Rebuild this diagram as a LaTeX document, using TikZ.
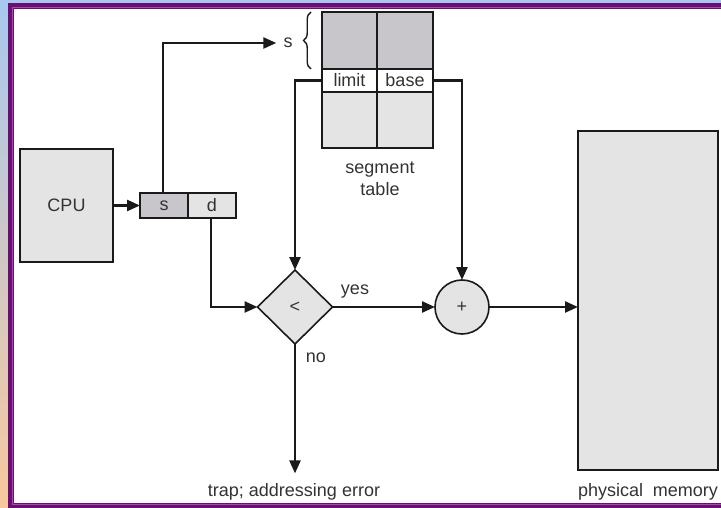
\documentclass[tikz,border=0pt]{standalone}
\usepackage{fontspec}
\setmainfont{Liberation Sans}
\usetikzlibrary{arrows.meta,shapes.geometric,decorations.pathreplacing}
\definecolor{fr1}{HTML}{6A0F72}
\definecolor{fr2}{HTML}{A44DAE}
\definecolor{lblue}{HTML}{A8C8F0}
\definecolor{peach}{HTML}{F8C89E}
\definecolor{boxg}{HTML}{E4E4E4}
\definecolor{darkg}{HTML}{C9C6CB}
\definecolor{txt}{HTML}{333333}
\definecolor{ln}{HTML}{1A1A1A}
\begin{document}
\begin{tikzpicture}[x=1pt,y=-1pt,
  every node/.style={font=\fontsize{18}{22}\selectfont, text=txt},
  cell/.style={draw=ln, line width=1.6pt, inner sep=0pt, outer sep=0pt, anchor=north west},
  conn/.style={draw=ln, line width=2.4pt},
  arr/.style={conn, -{Triangle[length=13pt,width=11pt]}},
  lbl/.style={inner sep=0pt}]
% frame / background
\useasboundingbox (0,0) rectangle (721,508);
\fill[white] (0,0) rectangle (721,508);
\fill[lblue] (0,0) rectangle (721,3);
\shade[top color=lblue, bottom color=peach] (0,0) rectangle (8,508);
\fill[fr1] (8,3) rectangle (721,508);
\fill[fr2] (12,7) rectangle (721,504.5);
\fill[fr1] (13,8) rectangle (721,503.5);
\fill[white] (14,9) rectangle (721,503);
% boxes
\node[cell, fill=boxg, minimum width=93pt, minimum height=113pt] (cpu) at (20,149) {CPU};
\node[cell, fill=darkg, minimum width=48pt, minimum height=25pt] (s) at (140,193) {s};
\node[cell, fill=boxg, minimum width=48pt, minimum height=25pt] (d) at (188,193) {d};
\node[cell, fill=darkg, minimum width=55pt, minimum height=57pt] (t1) at (322,12) {};
\node[cell, fill=darkg, minimum width=56pt, minimum height=57pt] (t2) at (377,12) {};
\node[cell, fill=white, minimum width=55pt, minimum height=23pt] (lim) at (322,69) {limit};
\node[cell, fill=white, minimum width=56pt, minimum height=23pt] (bas) at (377,69) {base};
\node[cell, fill=boxg, minimum width=55pt, minimum height=56pt] (t3) at (322,92) {};
\node[cell, fill=boxg, minimum width=56pt, minimum height=56pt] (t4) at (377,92) {};
\node[draw=ln, line width=1.6pt, fill=boxg, diamond, minimum width=75pt, minimum height=74pt, inner sep=0pt, outer sep=0pt] (cmp) at (295,307) {<};
\node[draw=ln, line width=1.6pt, fill=boxg, circle, minimum size=54pt, inner sep=0pt, outer sep=0pt] (add) at (462,307) {+};
\node[cell, fill=boxg, minimum width=140pt, minimum height=339pt] (mem) at (578,131) {};
% labels
\node[lbl] (sl) at (288,43) {s};
\node[lbl, align=center] (seg) at (380,179) {segment\\table};
\node[lbl] (yes) at (355,292) {yes};
\node[lbl] (no) at (316,358) {no};
\node[lbl] (trap) at (294,492) {trap; addressing error};
\node[lbl] (pm) at (648,492) {physical\hspace{0.55em}memory};
% brace
\draw[ln, line width=1.4pt, decorate, decoration={brace, amplitude=7.5pt}]
  ([xshift=-11pt]t1.south west) -- ([xshift=-11pt]t1.north west);
% connectors
\draw[arr] (cpu.east) -- (s.west);
\draw[arr] ([xshift=-1pt]s.north) |- ([xshift=-7pt]sl.west);
\draw[arr] (lim.west) -| (cmp.north);
\draw[arr] (bas.east) -| (add.north);
\draw[arr] ([xshift=-1pt]d.south) |- (cmp.west);
\draw[arr] (cmp.east) -- (add.west);
\draw[arr] (add.east) -- (add.east -| mem.west);
\draw[arr, shorten >=10pt] (cmp.south) -- (cmp.south |- trap.north);
\end{tikzpicture}
\end{document}
